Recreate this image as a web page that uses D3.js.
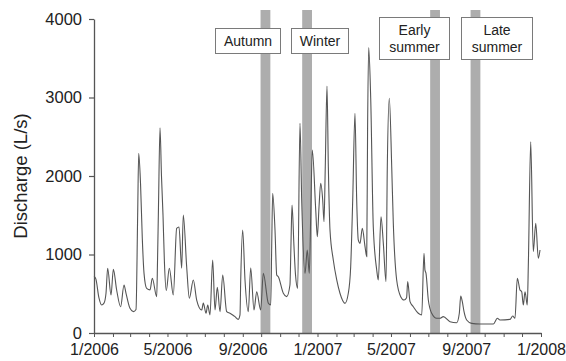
<!DOCTYPE html>
<html>
<head>
<meta charset="utf-8">
<script src="https://cdn.jsdelivr.net/npm/d3@7"></script>
<style>
  html, body { margin: 0; padding: 0; background: #fff; }
  svg { display: block; font-family: "Liberation Sans", Arial, sans-serif; }
</style>
</head>
<body>
<svg id="chart" width="566" height="361"></svg>
<script>
// ---- data ----
// days since 1 Jan 2006
const dayOffset = [
  0, 3, 8, 12.5, 16.3, 19.6, 22.3, 27.8, 31.6, 37, 43.5, 49, 52.3, 58.8, 64.3, 68.6,
  71.3, 73, 76, 78.9, 81.7, 86, 91.5, 95.2, 102.4, 103.7, 105.3, 107.8, 110.2, 112.7,
  115, 118, 123, 129.5, 135, 138.8, 143.2, 145.8, 151.4, 155.7, 162.2, 167.7, 175.9,
  178.5, 183, 185.7, 189.4, 193.8, 197.6, 201.4, 205.8, 210.2, 216.7, 222, 226.5,
  230.3, 235.6, 238.4, 239.6, 242.8, 246.6, 252, 255.9, 261.3, 265.7, 272.2, 276.5,
  284.7, 288.6, 290.2, 291.8, 295.6, 298.4, 301, 309.2, 314.7, 320, 321.6, 323.4,
  326.6, 329, 332.6, 336.4, 339.2, 344.6, 348.3, 351.6, 353.9, 356.5, 362.1, 364.7,
  367.5, 370.2, 373.5, 375.6, 377.7, 380.5, 382.7, 385.4, 390.8, 396.4, 401.7, 409.9,
  415.3, 419.2, 422.5, 426.2, 429, 431.6, 434.4, 438.2, 442.6, 445.4, 446.8, 448.6,
  451.9, 456.1, 461.7, 464.3, 468.7, 472.5, 476.9, 479, 482.3, 486.2, 488.8, 494.3,
  500.9, 506.3, 510.5, 512.3, 516.1, 521.5, 529.6, 535.2, 538.9, 540.5, 542.2, 546,
  551.5, 559.6, 565, 570.4, 581.4, 592.3, 596.6, 598.9, 601.5, 604.3, 608.6, 616.8,
  630.4, 652.1, 658.7, 663, 679.4, 683.8, 687.5, 691.3, 695.7, 698.5, 701.1, 703.9,
  707.6, 709.4, 713.2, 717.4, 721.4, 725.6, 728.4
];
const discharge = [
  720, 690, 450, 357, 380, 506, 824, 484, 811, 548, 335, 611, 506, 314, 272, 300,
  1500, 2289, 1900, 1200, 760, 569, 550, 697, 462, 900, 1600, 2615, 2000, 1500,
  900, 540, 824, 484, 1333, 1350, 824, 1503, 837, 442, 675, 420, 293,
  380, 251, 357, 230, 930, 293, 582, 272, 738, 272, 251, 230,
  208, 174, 230, 675, 1312, 675, 272, 828, 293, 526, 293, 760,
  380, 357, 1100, 1780, 1312, 738, 717, 506, 463, 611, 1100, 1630,
  1100, 750, 569, 2671, 1694, 760, 1057, 760, 1481, 2331, 1567, 1227,
  1609, 1907, 1694, 1418, 2118, 3146, 2118, 1312, 930, 676, 506, 378,
  506, 845, 1694, 2800, 1694, 1185, 1142, 1333, 1100, 972, 2600, 3635,
  2990, 1354, 803, 675, 1481, 1142, 654, 2118, 2990, 2118, 1397, 675,
  463, 420, 450, 654, 399, 335, 251, 230, 1015, 800, 760, 420,
  251, 187, 187, 208, 144, 131, 251, 471, 400, 272, 166, 123,
  115, 115, 187, 166, 174, 216, 187, 697, 548, 526, 357, 526,
  357, 900, 2437, 1036, 1397, 952, 1057
];
const yTicks = [0, 1000, 2000, 3000, 4000];
const xTickLabelEvery = 4; // months
const seasonLabels = [["Autumn"], ["Winter"], ["Early", "summer"], ["Late", "summer"]];
const seasonStart = ["2006-09-30", "2006-12-07", "2007-07-04", "2007-09-08"];
const seasonEnd   = ["2006-10-16", "2006-12-23", "2007-07-20", "2007-09-24"];
const yLabel = "Discharge (L/s)";

// ---- layout ----
const mLeft = 94, mRight = 541, mTop = 19, mBottom = 333, bandTop = 10;
// label box geometry [x0, y0, w, h]
const boxes = [[215, 28, 65, 25], [291, 28, 57, 25], [379, 17, 70, 42], [461, 17, 71, 42]];

const svg = d3.select("#chart");
const t0 = new Date(2006, 0, 1);
const toDate = d => new Date(t0.getTime() + d * 864e5);
const parseDay = s => { const [yy, mm, dd] = s.split("-").map(Number); return new Date(yy, mm - 1, dd); };

const x = d3.scaleTime().domain([new Date(2006, 0, 1), new Date(2008, 0, 1)]).range([mLeft, mRight]);
const y = d3.scaleLinear().domain([0, 4000]).range([mBottom, mTop]);

// season bands
svg.append("g").selectAll("rect").data(seasonStart).join("rect")
  .attr("x", d => x(parseDay(d)))
  .attr("width", (d, i) => x(parseDay(seasonEnd[i])) - x(parseDay(d)))
  .attr("y", bandTop)
  .attr("height", mBottom - bandTop)
  .attr("fill", "#adadad");

// discharge line
const pts = dayOffset.map((d, i) => [toDate(d), discharge[i]]);
svg.append("path")
  .datum(pts)
  .attr("fill", "none")
  .attr("stroke", "#555")
  .attr("stroke-width", 1.1)
  .attr("stroke-linejoin", "round")
  .attr("d", d3.line().curve(d3.curveMonotoneX).x(d => x(d[0])).y(d => y(d[1])));

// label boxes
const lg = svg.append("g");
seasonLabels.forEach((lines, i) => {
  const [bx, by, bw, bh] = boxes[i];
  lg.append("rect").attr("x", bx + 0.5).attr("y", by + 0.5).attr("width", bw).attr("height", bh)
    .attr("fill", "#fff").attr("stroke", "#7a7a7a").attr("stroke-width", 1);
  const cy = by + bh / 2 + 0.5;
  const lh = 17;
  lines.forEach((t, j) => {
    lg.append("text")
      .attr("x", bx + bw / 2 + 0.5)
      .attr("y", cy + (j - (lines.length - 1) / 2) * lh)
      .attr("dy", "0.36em")
      .attr("text-anchor", "middle")
      .attr("font-size", 14)
      .attr("fill", "#222")
      .text(t);
  });
});

// axes
const xAxis = d3.axisBottom(x)
  .ticks(d3.timeMonth.every(1))
  .tickSize(4)
  .tickSizeOuter(0)
  .tickPadding(7)
  .tickFormat(d => d.getMonth() % xTickLabelEvery === 0 ? `${d.getMonth() + 1}/${d.getFullYear()}` : "");
const gx = svg.append("g").attr("transform", `translate(0,${mBottom})`).call(xAxis);
gx.select(".domain").attr("stroke", "#555").attr("stroke-width", 1.3);
gx.selectAll(".tick line").attr("stroke", "#555").attr("stroke-width", 1);
gx.selectAll(".tick text").attr("font-size", 16).attr("fill", "#222")
  .attr("font-family", "Liberation Sans, Arial, sans-serif");

const yAxis = d3.axisLeft(y).tickValues(yTicks).tickFormat(d3.format("d"))
  .tickSize(5).tickSizeOuter(0).tickPadding(7);
const gy = svg.append("g").attr("transform", `translate(${mLeft},0)`).call(yAxis);
gy.select(".domain").attr("stroke", "#555").attr("stroke-width", 1.3);
gy.selectAll(".tick line").attr("stroke", "#555").attr("stroke-width", 1.2);
gy.selectAll(".tick text").attr("font-size", 16.5).attr("fill", "#222")
  .attr("font-family", "Liberation Sans, Arial, sans-serif");

svg.append("text")
  .attr("transform", `translate(27,${(mTop + mBottom) / 2}) rotate(-90)`)
  .attr("text-anchor", "middle")
  .attr("font-size", 18.5)
  .attr("fill", "#222")
  .text(yLabel);
</script>
</body>
</html>
